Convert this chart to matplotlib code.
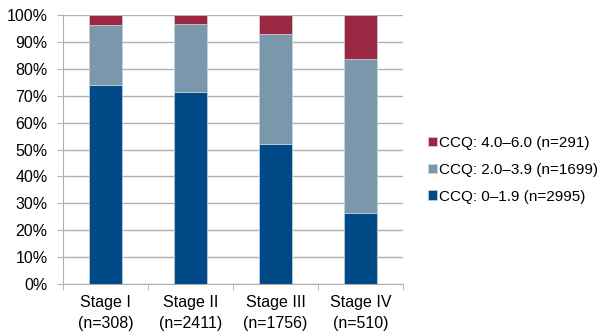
import numpy as np
import matplotlib.pyplot as plt

plt.rcParams['font.family'] = ['Liberation Sans', 'DejaVu Sans']

stages = ["Stage I\n(n=308)", "Stage II\n(n=2411)", "Stage III\n(n=1756)", "Stage IV\n(n=510)"]
low = [73.9, 71.3, 52.0, 26.4]
mid = [22.3, 25.4, 40.8, 57.4]
high = [3.8, 3.3, 7.2, 16.2]
series_labels = ["CCQ: 0\u20131.9 (n=2995)", "CCQ: 2.0\u20133.9 (n=1699)", "CCQ: 4.0\u20136.0 (n=291)"]
colors = ["#004a87", "#7a97ab", "#9b2743"]

fig = plt.figure(figsize=(6.01, 3.31), dpi=100)
ax = fig.add_axes([63 / 601, 47 / 331, 340 / 601, 269 / 331])

x = np.arange(len(stages))
bottom = np.zeros(len(stages))
handles = []
for vals, c, lab in zip([low, mid, high], colors, series_labels):
    b = ax.bar(x, vals, width=0.39, bottom=bottom, color=c, edgecolor="#c8d3dc",
               linewidth=0.5, label=lab, zorder=3)
    handles.append(b)
    bottom += np.array(vals)

ax.set_xlim(-0.5, len(stages) - 0.5)
ax.set_ylim(0, 100)
ax.set_yticks(np.arange(0, 101, 10))
ax.set_yticklabels([f"{v}%" for v in range(0, 101, 10)], fontsize=11.5)
ax.yaxis.grid(True, color="#b0b0b0", linewidth=1, zorder=0)
ax.set_xticks(x)
ax.set_xticklabels(stages, fontsize=11.5, linespacing=1.45)
ax.tick_params(axis="x", length=0, pad=8)
ax.tick_params(axis="y", length=4, color="#b0b0b0", pad=7)
ax.set_xticks(np.arange(-0.5, len(stages), 1), minor=True)
ax.tick_params(axis="x", which="minor", length=4, color="#b0b0b0")
for s in ["top", "right"]:
    ax.spines[s].set_visible(False)
ax.spines["left"].set_color("#b0b0b0")
ax.spines["bottom"].set_color("#b0b0b0")

leg = fig.legend(handles[::-1], series_labels[::-1], loc="upper left",
                 bbox_to_anchor=(414 / 601, 1 - 122 / 331), frameon=False,
                 fontsize=11, handlelength=0.6, handleheight=0.6,
                 handletextpad=0.15, labelspacing=0.85)

fig.savefig("out.png", dpi=100)
